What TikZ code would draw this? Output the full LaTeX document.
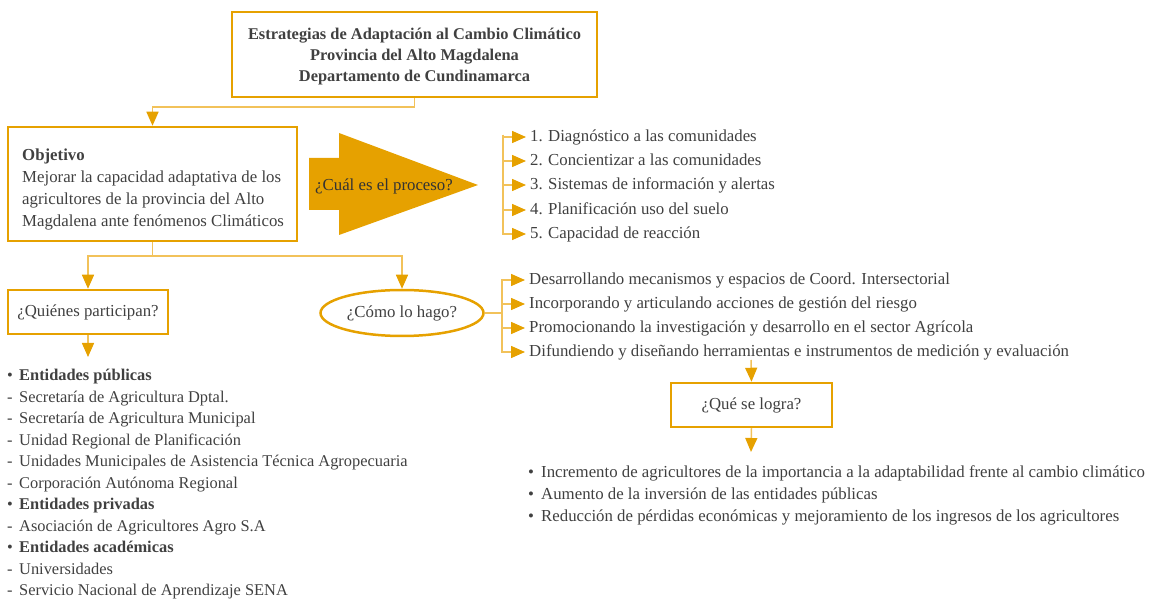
\documentclass[tikz,border=0pt]{standalone}
\usepackage{fontspec}
\setmainfont{Liberation Serif}
\usetikzlibrary{arrows.meta,shapes.geometric}
\definecolor{orn}{HTML}{E6A100}
\definecolor{lor}{HTML}{F2C25A}
\definecolor{txt}{HTML}{404040}
\newcommand\fsz{\fontsize{16.8}{21.6}\selectfont}
\newcommand\fsp{\fontsize{16.4}{21.6}\selectfont}
\begin{document}
\begin{tikzpicture}[x=1pt,y=-1pt,
  box/.style={draw=orn,line width=2.5pt,inner sep=0pt,text=txt,font=\fsz},
  lbl/.style={text=txt,font=\fsz,inner sep=0pt,text height=12pt,text depth=3.6pt,anchor=west},
  conn/.style={draw=lor,line width=1.5pt},
  arr/.style={conn,-{Triangle[width=12pt,length=14pt,color=orn]}},
  tarr/.style={arr,shorten >=4pt}]
\useasboundingbox (0,0) rectangle (1154,601);
% title
\node[box,minimum width=365pt,minimum height=85pt] (title) at (414.5,54.5) {};
\node[text=txt,align=center,inner sep=0pt,font=\fontsize{16.4}{21}\selectfont\bfseries] (titletxt) at (414.5,57)
  {Estrategias de Adaptación al Cambio Climático\\Provincia del Alto Magdalena\\Departamento de Cundinamarca};
% objective
\node[box,minimum width=289pt,minimum height=114pt] (obj) at (152.5,184) {};
\node[lbl,font=\fsz\bfseries] (o1) at (22,156) {Objetivo};
\node[lbl] (o2) at (22,178) {Mejorar la capacidad adaptativa de los};
\node[lbl] (o3) at (22,200) {agricultores de la provincia del Alto};
\node[lbl] (o4) at (22,222) {Magdalena ante fenómenos Climáticos};
% big arrow
\fill[orn] (309,158) -- (339,158) -- (339,133) -- (478,185) -- (339,235) -- (339,210) -- (309,210) -- cycle;
\node[lbl,text=black!80] (proc) at (315,186) {¿Cuál es el proceso?};
% process list
\foreach \i/\y/\t in {1/137/Diagnóstico a las comunidades,2/161/Concientizar a las comunidades,3/185/Sistemas de información y alertas,4/210/Planificación uso del suelo,5/234/Capacidad de reacción}
  \node[lbl] (p\i) at (530,\y) {\makebox[18pt][l]{\i.}\t};
\coordinate (pv) at (503,135);
\foreach \i in {1,...,5} \draw[tarr] (pv) |- (p\i.west);
% title -> objective
\draw[arr] (title.south) -- ++(0,9) -| (obj.north);
% objective -> split
\node[box,minimum width=160pt,minimum height=44pt] (quien) at (88,312) {¿Quiénes participan?};
\node[box,ellipse,minimum width=163pt,minimum height=46pt] (como) at (402,313) {¿Cómo lo hago?};
\draw[conn] (obj.south) -- ++(0,14) coordinate (split);
\draw[arr] (split) -| (quien.north);
\draw[arr] (split) -| (como.north);
\coordinate (qend) at (88,357);
\draw[arr] (quien.south) -- (qend);
% como list
\foreach \i/\y/\t in {1/280/Desarrollando mecanismos y espacios de Coord. Intersectorial,2/304/Incorporando y articulando acciones de gestión del riesgo,3/328/Promocionando la investigación y desarrollo en el sector Agrícola,4/352/Difundiendo y diseñando herramientas e instrumentos de medición y evaluación}
  \node[lbl] (c\i) at (529,\y) {\t};
\draw[conn] (como.east) -- (502,313) coordinate (cv);
\foreach \i in {1,...,4} \draw[tarr] (cv) |- (c\i.west);
% logra
\node[box,minimum width=161pt,minimum height=44pt] (logra) at (751.5,405) {¿Qué se logra?};
\coordinate (lstart) at (751,360);
\coordinate (lend) at (751,452);
\draw[arr] (lstart) -- (logra.north);
\draw[arr] (logra.south) -- (lend);
\foreach \i/\y/\t in {1/473/Incremento de agricultores de la importancia a la adaptabilidad frente al cambio climático,2/495/Aumento de la inversión de las entidades públicas,3/517/Reducción de pérdidas económicas y mejoramiento de los ingresos de los agricultores}
  \node[lbl] (r\i) at (528,\y) {\makebox[13pt][l]{•}\t};
% participants
\foreach \i/\s/\t in {1/•/{\bfseries Entidades públicas},2/-/Secretaría de Agricultura Dptal.,3/-/Secretaría de Agricultura Municipal,4/-/Unidad Regional de Planificación,5/-/Unidades Municipales de Asistencia Técnica Agropecuaria,6/-/Corporación Autónoma Regional,7/•/{\bfseries Entidades privadas},8/-/Asociación de Agricultores Agro S.A,9/•/{\bfseries Entidades académicas},10/-/Universidades,11/-/Servicio Nacional de Aprendizaje SENA}
  \node[lbl,font=\fsp] (pa\i) at (7,{376.5+21.5*(\i-1)}) {\makebox[12pt][l]{\s}\t};
\end{tikzpicture}
\end{document}
